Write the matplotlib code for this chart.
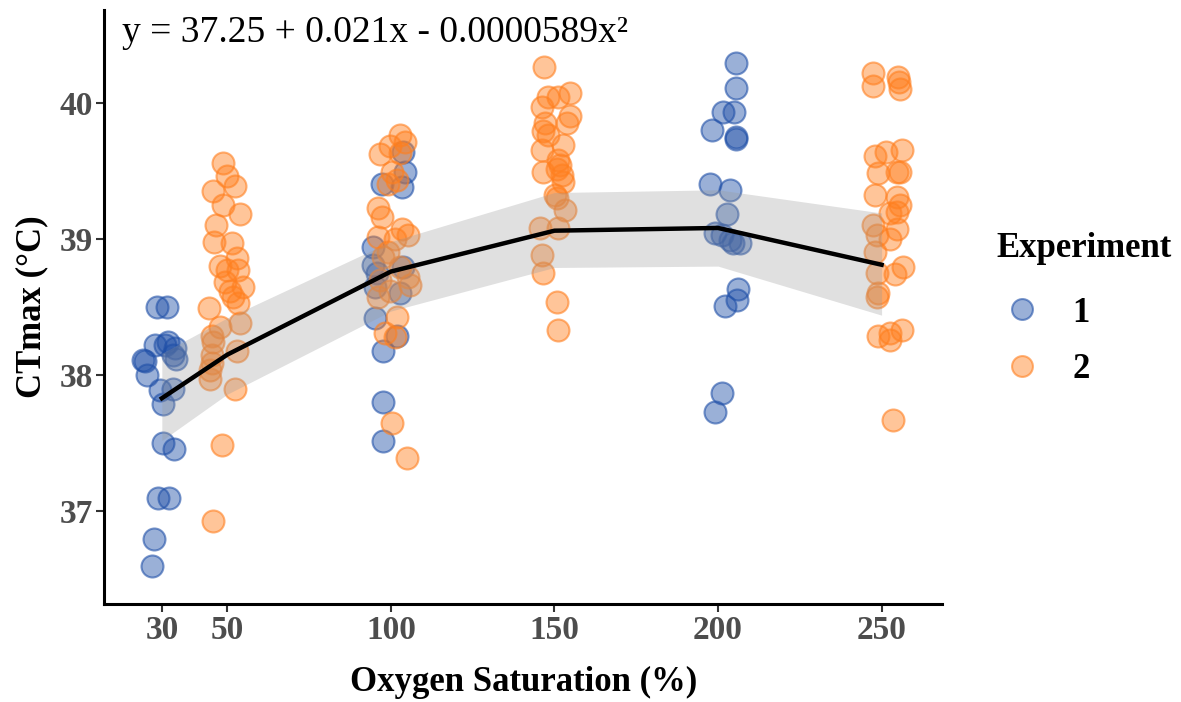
import numpy as np
import matplotlib
matplotlib.use("Agg")
import matplotlib.pyplot as plt
from matplotlib.lines import Line2D

plt.rcParams['font.family'] = ['Liberation Serif', 'DejaVu Serif']

# experiment 1 (blue), jittered x and CTmax
exp1_x = [28.5, 31.6, 27.9, 31.9, 34.0, 34.2, 33.5, 24.2, 25.0, 25.5, 29.4, 33.4, 30.3,
          30.3, 33.7, 28.8, 32.2, 27.6, 27.0, 31.0,
          103.7, 104.3, 97.2, 103.4, 94.5, 94.5, 95.7, 103.7, 95.1, 102.7, 95.1, 101.8,
          97.6, 97.6, 97.6,
          205.4, 205.4, 201.4, 204.8, 198.1, 205.4, 205.4, 197.5, 203.6, 202.7, 199.0,
          201.1, 203.6, 204.5, 206.6, 206.0, 205.7, 202.0, 201.1, 199.0]
exp1_y = [38.50, 38.50, 38.22, 38.24, 38.20, 38.12, 38.15, 38.11, 38.10, 38.00, 37.89, 37.90, 37.79,
          37.50, 37.46, 37.10, 37.10, 36.80, 36.60, 38.22,
          39.64, 39.49, 39.40, 39.38, 38.94, 38.81, 38.75, 38.79, 38.65, 38.60, 38.42, 38.29,
          38.18, 37.80, 37.52,
          40.29, 40.11, 39.93, 39.93, 39.80, 39.75, 39.73, 39.40, 39.36, 39.18, 39.04,
          39.03, 38.99, 38.97, 38.97, 38.63, 38.55, 38.51, 37.87, 37.73]

# experiment 2 (orange)
exp2_x = [48.7, 49.9, 52.3, 45.6, 48.7, 53.9, 46.5, 45.9, 51.4, 52.9, 47.8, 49.9, 53.3, 49.3,
          54.8, 50.8, 51.7, 53.3, 44.4, 53.9, 47.8, 45.3, 45.6, 52.9, 45.3, 44.7, 52.3, 48.4,
          45.6, 45.3, 44.7,
          102.7, 104.3, 96.6, 99.7, 102.7, 100.3, 101.8, 99.1, 96.0, 97.2, 103.4, 105.2,
          96.0, 101.2, 99.1, 97.6, 102.7, 105.2, 105.8, 96.6, 99.7, 96.0, 101.8, 98.2,
          101.2, 100.3, 104.9,
          146.7, 148.0, 154.7, 151.0, 146.1, 154.7, 153.8, 147.0, 146.4, 148.0, 152.6,
          146.1, 151.0, 151.6, 150.7, 146.4, 152.2, 152.6, 150.1, 150.7, 153.2, 145.5,
          151.0, 146.1, 146.4, 150.7, 151.0,
          247.3, 247.3, 254.9, 255.2, 255.5, 256.1, 251.5, 247.9, 255.5, 248.8, 254.6,
          247.9, 254.6, 255.5, 254.6, 252.5, 247.3, 254.6, 248.5, 252.5, 247.9, 256.4,
          248.5, 254.0, 248.8, 248.5, 256.1, 248.8, 252.5, 252.5, 253.4]
exp2_y = [39.56, 39.46, 39.39, 39.35, 39.25, 39.18, 39.10, 38.98, 38.97, 38.86, 38.80, 38.77,
          38.77, 38.68, 38.65, 38.62, 38.57, 38.53, 38.49, 38.38, 38.35, 38.29, 38.24, 38.18,
          38.15, 38.04, 37.90, 37.49, 36.93, 38.09, 37.97,
          39.76, 39.71, 39.62, 39.68, 39.63, 39.49, 39.43, 39.40, 39.23, 39.16, 39.07, 39.03,
          39.01, 39.00, 38.90, 38.87, 38.79, 38.72, 38.66, 38.70, 38.62, 38.57, 38.43, 38.31,
          38.28, 37.65, 37.39,
          40.26, 40.04, 40.07, 40.04, 39.97, 39.90, 39.85, 39.85, 39.79, 39.76, 39.69,
          39.65, 39.58, 39.54, 39.51, 39.49, 39.47, 39.42, 39.32, 39.30, 39.21, 39.08,
          39.08, 38.88, 38.75, 38.54, 38.33,
          40.22, 40.12, 40.19, 40.15, 40.10, 39.65, 39.64, 39.61, 39.49, 39.48, 39.49,
          39.32, 39.31, 39.25, 39.20, 39.19, 39.10, 39.07, 39.03, 39.00, 38.90, 38.79,
          38.75, 38.74, 38.60, 38.57, 38.33, 38.29, 38.31, 38.26, 37.67]

# fitted quadratic and its confidence band
fit_x = [30, 50, 100, 150, 200, 250]
fit_y = [37.83, 38.15, 38.76, 39.06, 39.08, 38.81]
fit_lo = [37.52, 37.86, 38.47, 38.79, 38.80, 38.44]
fit_hi = [38.16, 38.42, 38.98, 39.34, 39.36, 39.19]

blue = '#2050A8'
orange = '#FF7F1E'

fig = plt.figure(figsize=(11.81, 7.02), dpi=100)
ax = fig.add_axes([0.088, 0.1396, 0.71, 0.8462])

ax.scatter(exp1_x, exp1_y, s=250, facecolor=matplotlib.colors.to_rgba(blue, 0.45),
           edgecolor=matplotlib.colors.to_rgba(blue, 0.6), linewidth=1.5, zorder=2)
ax.scatter(exp2_x, exp2_y, s=250, facecolor=matplotlib.colors.to_rgba(orange, 0.45),
           edgecolor=matplotlib.colors.to_rgba(orange, 0.6), linewidth=1.5, zorder=2)
ax.fill_between(fit_x, fit_lo, fit_hi, color='#999999', alpha=0.3, linewidth=0, zorder=3)
ax.plot(fit_x, fit_y, color='black', linewidth=3.2, zorder=4)

ax.set_xlim(12.3, 268.6)
ax.set_ylim(36.32, 40.68)
ax.set_xticks([30, 50, 100, 150, 200, 250])
ax.set_yticks([37, 38, 39, 40])
for sp in ['top', 'right']:
    ax.spines[sp].set_visible(False)
for sp in ['left', 'bottom']:
    ax.spines[sp].set_linewidth(2.2)
ax.tick_params(axis='both', length=6, width=1.5, color='#333333', labelsize=24,
               labelcolor='#4d4d4d', pad=2)
for lab in ax.get_xticklabels() + ax.get_yticklabels():
    lab.set_fontweight('bold')

ax.set_xlabel('Oxygen Saturation (%)', fontsize=25, fontweight='bold', labelpad=14)
ax.set_ylabel('CTmax (°C)', fontsize=25, fontweight='bold', labelpad=8)

ax.text(0.022, 0.99, 'y = 37.25 + 0.021x - 0.0000589x²', transform=ax.transAxes,
        fontsize=27, va='top', ha='left')

handles = [
    Line2D([], [], linestyle='none', marker='o', markersize=15,
           markerfacecolor=matplotlib.colors.to_rgba(blue, 0.45),
           markeredgecolor=matplotlib.colors.to_rgba(blue, 0.6), markeredgewidth=1.5),
    Line2D([], [], linestyle='none', marker='o', markersize=15,
           markerfacecolor=matplotlib.colors.to_rgba(orange, 0.45),
           markeredgecolor=matplotlib.colors.to_rgba(orange, 0.6), markeredgewidth=1.5),
]
leg = fig.legend(handles, ['1', '2'], title='Experiment', loc='upper left',
                 bbox_to_anchor=(0.8434, 0.67), frameon=False, handlelength=1.5,
                 handletextpad=0.7, labelspacing=0.67, borderpad=0, borderaxespad=0,
                 prop={'size': 25, 'weight': 'bold'},
                 title_fontproperties={'size': 25, 'weight': 'bold'})
leg._legend_box.align = 'left'
leg._legend_box.sep = 23

fig.savefig('out.png', dpi=100)
